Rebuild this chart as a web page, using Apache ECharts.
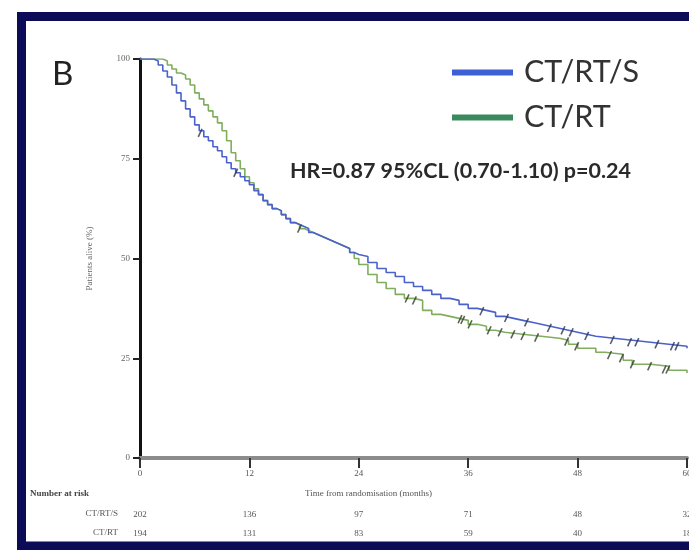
<!DOCTYPE html>
<html>
<head>
<meta charset="utf-8">
<script src="https://cdn.jsdelivr.net/npm/echarts@6/dist/echarts.min.js"></script>
<style>html,body{margin:0;padding:0;background:#fff;overflow:hidden}#c{width:689px;height:550px}</style>
</head>
<body>
<div id="c"></div>
<script>
// ---- data ----
const seriesNames = ['CT/RT/S', 'CT/RT'];
const xTicks = [0, 12, 24, 36, 48, 60];
const yTicks = [0, 25, 50, 75, 100];

const timeS = [0,1,1.5,2,2.5,3,3.5,4,4.5,5,5.5,6,6.5,7,7.5,8,8.5,9,9.5,10,10.5,11,11.5,12,12.5,13,13.5,14,14.5,15,15.5,16,16.5,17,17.5,18,18.5,19,19.5,20,20.5,21,21.5,22,22.5,23,23.5,24,25,26,27,28,29,30,31,32,33,34,35,36,37,38,39,40,41,42,43,44,45,46,47,48,49,50,52,54,56,58,60];
const survS = [100,100,99.5,98.5,97,95.5,93.5,91.5,89.5,87.5,85.5,83.5,82,80.5,79.5,78,77,75.5,74,72.5,71.5,70.5,69.5,68.5,67,66,64.5,63.5,62.5,62,61,60,59,58.5,58,57.5,56.5,56,55.5,55,54.5,54,53.5,53,52.5,51.5,51,50.5,49,47.5,46.5,45.5,44,43,42,41,40,39.5,38.5,37.5,37,36.5,35.5,35,34.5,34,33.5,33,32.5,32,31.5,31,30.5,30,29.5,29,28.5,28,27.5];

const timeR = [0,2,2.5,3,3.5,4,4.5,5,5.5,6,6.5,7,7.5,8,8.5,9,9.5,10,10.5,11,11.5,12,12.5,13,13.5,14,14.5,15,15.5,16,16.5,17,17.5,18,18.5,19,19.5,20,20.5,21,21.5,22,22.5,23,23.5,24,25,26,27,28,29,30,31,32,33,34,35,36,37,38,39,40,42,44,46,47,48,50,51,53,54,56,58,60];
const survR = [100,100,99.5,98.5,97.5,96.5,96,95,93.5,91.5,90,88.5,87,85.5,84,82,79.5,76.5,74.5,72.5,70.5,69,67.5,66,64.5,63.5,62.5,62,61,60,59,58.5,57.5,57,56.5,56,55.5,55,54.5,54,53.5,53,52.5,51.5,50,48.5,46,44,42.5,41,40,39.5,37,36,35.5,35,34.5,33.5,33,32,31.5,31,30.5,30,29.5,28.5,27.5,26.5,26,24.5,23.5,23,22,21.3];

const censorTimeS = [6.6,10.5,37.5,40.2,42.4,44.9,46.4,47.3,49.0,51.8,53.7,54.5,56.7,58.4,58.9];
const censorSurvS = [81.5,71.5,36.8,35.1,34,32.6,32,31.5,30.6,29.6,29,29,28.5,28,28];
const censorTimeR = [17.5,29.3,30.1,35.1,35.4,36.2,38.3,39.5,40.9,42,43.5,46.8,47.9,51.5,52.8,54,55.9,57.5,57.9];
const censorSurvR = [57.5,40,39.5,34.8,34.6,33.5,32,31.5,31,30.6,30.2,29.2,28,25.8,25,23.5,23,22.2,22.2];

const riskS = [202, 136, 97, 71, 48, 32];
const riskR = [194, 131, 83, 59, 40, 18];

const hrText = 'HR=0.87 95%CL (0.70-1.10) p=0.24';
// -------------------------------------

const pair = (a, b) => a.map((t, i) => [t, b[i]]);
const chart = echarts.init(document.getElementById('c'), null, {renderer: 'canvas', width: 689, height: 550});
const fontMain = 'Lato, "Open Sans", sans-serif';
const fontSmall = '"Liberation Serif", serif';
const lineBlue = '#4a62c9', lineGreen = '#80ad5e';

const baseX = {
  type: 'value', min: 0, max: 60, interval: 12, gridIndex: 0,
  splitLine: {show: false}
};

const option = {
  backgroundColor: '#ffffff',
  animation: false,
  grid: {left: 140, top: 59, right: 2, height: 399, containLabel: false, outerBoundsMode: 'none'},
  legend: {
    orient: 'vertical', left: 452, top: 57, itemGap: 14, padding: 0,
    itemWidth: 61, itemHeight: 6, icon: 'rect',
    textStyle: {fontFamily: fontMain, fontSize: 30.5, color: '#333', padding: [0, 0, 0, 6]},
    data: [
      {name: seriesNames[0], itemStyle: {color: '#3f5fd4'}},
      {name: seriesNames[1], itemStyle: {color: '#3a8a5e'}}
    ]
  },
  xAxis: [
    Object.assign({}, baseX, {
      axisLine: {show: true, onZero: false, lineStyle: {color: '#8c8c8c', width: 4}},
      axisTick: {show: true, length: 10, lineStyle: {color: '#333', width: 2}},
      axisLabel: {margin: 11, fontSize: 9, color: '#555', fontFamily: fontSmall,
        formatter: v => xTicks.includes(v) ? String(v) : ''}
    }),
    Object.assign({}, baseX, {
      position: 'bottom', offset: 44,
      axisLine: {show: false}, axisTick: {show: false},
      axisLabel: {margin: 8, fontSize: 9, color: '#555', fontFamily: fontSmall,
        formatter: v => { const r = riskS[v / 12]; return r === undefined ? '' : String(r); }}
    }),
    Object.assign({}, baseX, {
      position: 'bottom', offset: 63,
      axisLine: {show: false}, axisTick: {show: false},
      axisLabel: {margin: 8, fontSize: 9, color: '#555', fontFamily: fontSmall,
        formatter: v => { const r = riskR[v / 12]; return r === undefined ? '' : String(r); }}
    })
  ],
  yAxis: {
    type: 'value', min: 0, max: 100, interval: 25,
    name: 'Patients alive (%)', nameLocation: 'middle', nameGap: 46, nameRotate: 90,
    nameTextStyle: {fontSize: 9, color: '#666', fontFamily: fontSmall},
    axisLine: {show: true, lineStyle: {color: '#111', width: 3}},
    axisTick: {show: true, length: 7, lineStyle: {color: '#222', width: 2}},
    axisLabel: {margin: 10, fontSize: 9, color: '#666', fontFamily: fontSmall,
      formatter: v => yTicks.includes(v) ? String(v) : ''},
    splitLine: {show: false}
  },
  series: [
    {name: seriesNames[0], type: 'line', step: 'end', showSymbol: false, symbol: 'none',
     data: pair(timeS, survS), lineStyle: {color: lineBlue, width: 1.6}, itemStyle: {color: lineBlue}, z: 3},
    {name: seriesNames[1], type: 'line', step: 'end', showSymbol: false, symbol: 'none',
     data: pair(timeR, survR), lineStyle: {color: lineGreen, width: 1.6}, itemStyle: {color: lineGreen}, z: 2},
    {name: 'censor-S', type: 'scatter', data: pair(censorTimeS, censorSurvS),
     symbol: 'rect', symbolSize: [1.6, 9], symbolRotate: -25, itemStyle: {color: '#2b3550'}, z: 4},
    {name: 'censor-R', type: 'scatter', data: pair(censorTimeR, censorSurvR),
     symbol: 'rect', symbolSize: [1.6, 9], symbolRotate: -25, itemStyle: {color: '#2f3d2a'}, z: 4}
  ],
  graphic: [
    {type: 'polyline', shape: {points: [[720, 16.5], [21.5, 16.5], [21.5, 546], [720, 546]]},
     style: {fill: null, stroke: '#0b0b58', lineWidth: 9, lineJoin: 'miter'}, z: 10},
    {type: 'text', left: 52, top: 58, style: {text: 'B', fontSize: 33, fontFamily: fontMain, fill: '#222'}},
    {type: 'text', left: 290, top: 160, style: {text: hrText, fontSize: 21.5, fontWeight: 'bold', fontFamily: fontMain, fill: '#2a2a2a'}},
    {type: 'text', left: 305, top: 489, style: {text: 'Time from randomisation (months)', fontSize: 9, fontFamily: fontSmall, fill: '#555'}},
    {type: 'text', left: 30, top: 489, style: {text: 'Number at risk', fontSize: 9, fontWeight: 'bold', fontFamily: fontSmall, fill: '#444'}},
    {type: 'text', right: 689 - 118, top: 509, style: {text: seriesNames[0], fontSize: 9, fontFamily: fontSmall, fill: '#555', textAlign: 'right'}},
    {type: 'text', right: 689 - 118, top: 528, style: {text: seriesNames[1], fontSize: 9, fontFamily: fontSmall, fill: '#555', textAlign: 'right'}}
  ]
};
chart.setOption(option);
</script>
</body>
</html>
